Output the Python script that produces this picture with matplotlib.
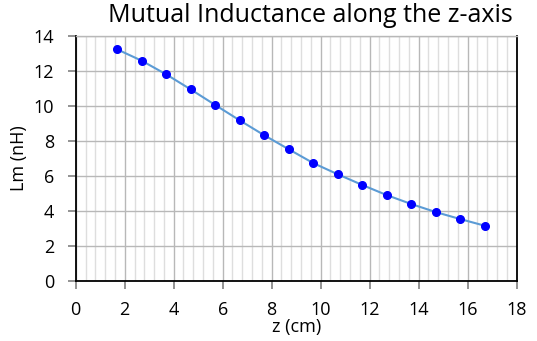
import matplotlib
matplotlib.use("Agg")
import matplotlib.pyplot as plt
from matplotlib.ticker import MultipleLocator

z_cm = [1.7, 2.7, 3.7, 4.7, 5.7, 6.7, 7.7, 8.7, 9.7, 10.7, 11.7, 12.7, 13.7, 14.7, 15.7, 16.7]
lm_nh = [13.24, 12.59, 11.81, 10.95, 10.06, 9.18, 8.33, 7.53, 6.74, 6.10, 5.49, 4.91, 4.40, 3.94, 3.54, 3.16]

plt.rcParams['font.family'] = ['Open Sans', 'DejaVu Sans']

fig = plt.figure(figsize=(5.37, 3.41), dpi=100)
ax = fig.add_axes([0.141, 0.176, 0.821, 0.718])

ax.plot(z_cm, lm_nh, color='#5B9BD5', linewidth=1.5, zorder=3)
ax.plot(z_cm, lm_nh, 'o', color='#0000FF', markersize=5.5, zorder=4)

ax.set_xlim(0, 18)
ax.set_ylim(0, 14)
ax.xaxis.set_major_locator(MultipleLocator(2))
ax.xaxis.set_minor_locator(MultipleLocator(0.4))
ax.yaxis.set_major_locator(MultipleLocator(2))

ax.grid(which='major', axis='both', color='#B8B8B8', linewidth=1.0, zorder=0)
ax.grid(which='minor', axis='x', color='#DEDEDE', linewidth=1.0, zorder=0)
ax.set_axisbelow(True)

for s in ['left', 'bottom', 'right']:
    ax.spines[s].set_color('black')
    ax.spines[s].set_linewidth(1.3)
ax.spines['top'].set_color('#B8B8B8')
ax.spines['top'].set_linewidth(1.0)

ax.tick_params(which='major', direction='out', length=5.5, width=1.2, color='#808080',
               labelsize=13, labelcolor='black')
ax.tick_params(axis='x', which='major', pad=9)
ax.tick_params(axis='y', which='major', pad=10)
ax.tick_params(which='minor', length=0)

fig.text(310 / 537, 1 - 16 / 341, 'Mutual Inductance along the z-axis', fontsize=18,
         ha='center', va='center')
ax.set_xlabel('z (cm)', fontsize=13, labelpad=-1)
ax.set_ylabel('Lm (nH)', fontsize=13, labelpad=4)

fig.savefig('out.png', dpi=100)
